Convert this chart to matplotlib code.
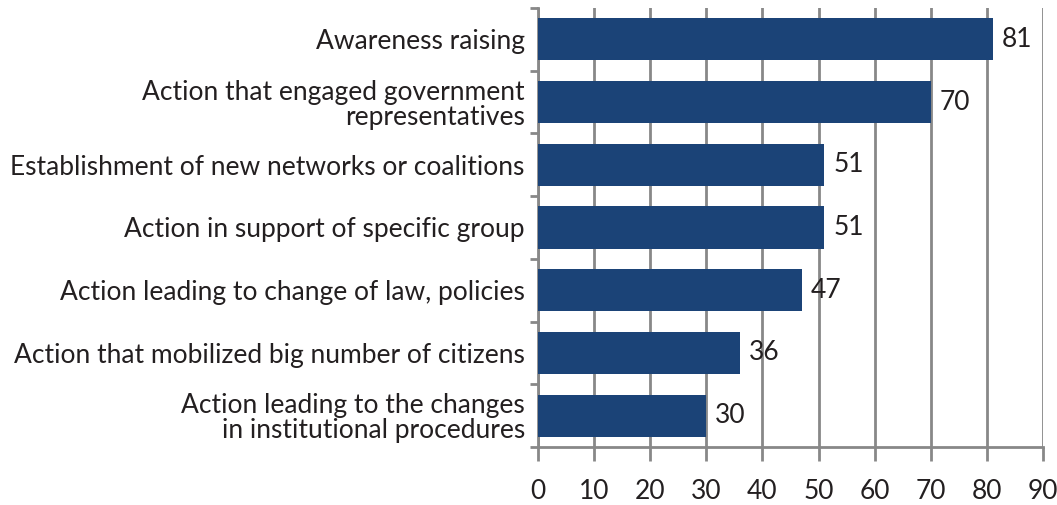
import matplotlib.pyplot as plt
import numpy as np

categories = [
    "Awareness raising",
    "Action that engaged government\nrepresentatives",
    "Establishment of new networks or coalitions",
    "Action in support of specific group",
    "Action leading to change of law, policies",
    "Action that mobilized big number of citizens",
    "Action leading to the changes\nin institutional procedures",
]
values = [81, 70, 51, 51, 47, 36, 30]
xticks = [0, 10, 20, 30, 40, 50, 60, 70, 80, 90]

plt.rcParams['font.family'] = ['Lato', 'DejaVu Sans']

fig = plt.figure(figsize=(10.57, 5.05), dpi=100)
ax = fig.add_axes([538 / 1057, 1 - 447 / 505, 505 / 1057, 439 / 505])

y = np.arange(len(categories))
ax.barh(y, values, height=0.67, color='#1B4377', zorder=3)
for yi, v in zip(y, values):
    ax.text(v + 1.6, yi, str(v), va='center', ha='left', fontsize=19, color='#231F20')

ax.set_xlim(0, 90)
ax.set_ylim(len(categories) - 0.5, -0.5)
ax.set_xticks(xticks)
ax.set_xticklabels([str(t) for t in xticks], fontsize=19, color='#231F20')
ax.set_yticks(y)
ax.set_yticklabels(categories, fontsize=19, color='#231F20', ha='right',
                   multialignment='right', linespacing=1.0)
ax.yaxis.set_ticks_position('none')
ax.set_yticks(np.arange(-0.5, len(categories)), minor=True)
ax.tick_params(axis='y', which='minor', length=6, width=2, color='#888888', left=True)
ax.tick_params(axis='y', which='major', pad=6)
ax.tick_params(axis='x', length=10, width=2, color='#888888', pad=13)
ax.grid(axis='x', color='#888888', linewidth=2, zorder=0)
for s in ['top', 'right']:
    ax.spines[s].set_visible(False)
for s in ['left', 'bottom']:
    ax.spines[s].set_color('#888888')
    ax.spines[s].set_linewidth(2)

fig.savefig('out.png', dpi=100)
